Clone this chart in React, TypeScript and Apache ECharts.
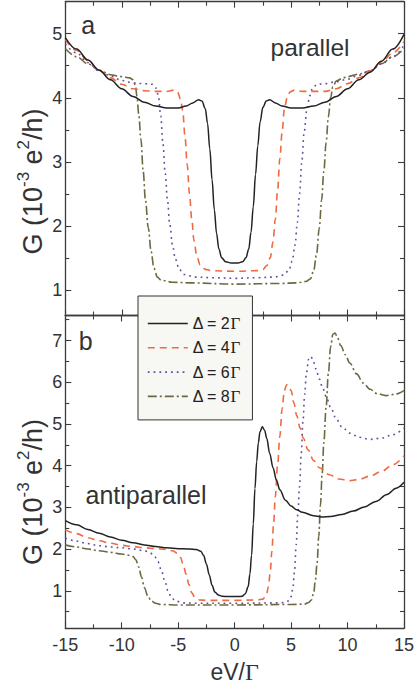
import React, { useEffect, useRef } from "react";
import * as echarts from "echarts";

// ---------- data ----------
const xMin = -15;
const xMax = 15;
const xStep = 5;

const topMajorTicks = [1, 2, 3, 4, 5];
const topMinorTicks = [1.5, 2.5, 3.5, 4.5, 5.5];
const botMajorTicks = [1, 2, 3, 4, 5, 6, 7];
const botMinorTicks = [0.5, 1.5, 2.5, 3.5, 4.5, 5.5, 6.5, 7.5];

const seriesNames = ["Δ = 2Γ", "Δ = 4Γ", "Δ = 6Γ", "Δ = 8Γ"];

// panel a: parallel
const par2 = [
  [-15, 4.94], [-14, 4.76], [-13, 4.59], [-12, 4.43], [-11, 4.28], [-10, 4.14], [-9, 4.02],
  [-8, 3.93], [-7, 3.87], [-6, 3.84], [-5, 3.84], [-4.3, 3.87], [-3.7, 3.92], [-3.2, 3.97],
  [-2.9, 3.95], [-2.6, 3.83], [-2.4, 3.6], [-2.2, 3.2], [-2.0, 2.72], [-1.8, 2.25],
  [-1.6, 1.88], [-1.4, 1.64], [-1.15, 1.5], [-0.8, 1.44], [-0.3, 1.42], [0.3, 1.42],
  [0.7, 1.44], [1.0, 1.5], [1.25, 1.64], [1.45, 1.9], [1.65, 2.3], [1.85, 2.8], [2.05, 3.25],
  [2.25, 3.62], [2.5, 3.85], [2.8, 3.95], [3.1, 3.97], [3.6, 3.92], [4.2, 3.87], [5, 3.84],
  [6, 3.84], [7, 3.87], [8, 3.93], [9, 4.02], [10, 4.14], [11, 4.28], [12, 4.4], [13, 4.57],
  [14, 4.76], [15, 4.99],
];
const par4 = [
  [-15, 4.91], [-14, 4.74], [-13, 4.58], [-12, 4.43], [-11, 4.31], [-10, 4.21], [-9, 4.14],
  [-8, 4.11], [-7, 4.1], [-6, 4.1], [-5.4, 4.12], [-5.05, 4.09], [-4.8, 3.98], [-4.6, 3.8],
  [-4.4, 3.4], [-4.2, 2.95], [-4.0, 2.5], [-3.8, 2.1], [-3.6, 1.77], [-3.35, 1.52],
  [-3.05, 1.39], [-2.6, 1.32], [-2, 1.3], [0, 1.29], [2, 1.3], [2.5, 1.32], [2.85, 1.38],
  [3.15, 1.5], [3.4, 1.75], [3.6, 2.1], [3.8, 2.55], [4.0, 3.05], [4.2, 3.45], [4.4, 3.82],
  [4.65, 4.0], [4.9, 4.09], [5.3, 4.12], [6, 4.1], [7, 4.1], [8, 4.1], [9, 4.14],
  [10, 4.22], [11, 4.31], [12, 4.42], [13, 4.56], [14, 4.7], [15, 4.88],
];
const par6 = [
  [-15, 4.84], [-14, 4.7], [-13, 4.55], [-12, 4.42], [-11, 4.34], [-10, 4.27], [-9, 4.23],
  [-8, 4.22], [-7.3, 4.21], [-6.95, 4.15], [-6.75, 4.02], [-6.55, 3.72], [-6.35, 3.28],
  [-6.15, 2.82], [-5.95, 2.4], [-5.75, 2.03], [-5.5, 1.7], [-5.25, 1.48], [-4.9, 1.32],
  [-4.5, 1.24], [-3.5, 1.2], [-2, 1.19], [0, 1.18], [2, 1.19], [3.5, 1.2], [4.3, 1.23],
  [4.8, 1.3], [5.1, 1.45], [5.35, 1.7], [5.55, 2.05], [5.75, 2.5], [5.95, 3.0], [6.15, 3.45],
  [6.4, 3.82], [6.65, 4.03], [6.9, 4.15], [7.3, 4.21], [8, 4.22], [9, 4.25], [10, 4.29],
  [11, 4.35], [12, 4.42], [13, 4.53], [14, 4.64], [15, 4.82],
];
const par8 = [
  [-15, 4.77], [-14, 4.64], [-13, 4.53], [-12, 4.43], [-11, 4.36], [-10, 4.33], [-9.3, 4.31],
  [-9.0, 4.28], [-8.8, 4.2], [-8.65, 4.02], [-8.5, 3.75], [-8.3, 3.35], [-8.1, 2.85],
  [-7.9, 2.4], [-7.65, 1.97], [-7.4, 1.6], [-7.15, 1.34], [-6.85, 1.2], [-6.5, 1.15],
  [-5.5, 1.12], [-4, 1.11], [0, 1.09], [4, 1.1], [5.5, 1.11], [6.3, 1.13], [6.7, 1.17],
  [7.0, 1.3], [7.25, 1.55], [7.5, 1.97], [7.7, 2.4], [7.9, 2.85], [8.1, 3.3], [8.3, 3.7],
  [8.5, 4.0], [8.7, 4.17], [9, 4.26], [9.6, 4.31], [10, 4.33], [11, 4.37], [12, 4.42],
  [13, 4.53], [14, 4.64], [15, 4.77],
];

// panel b: antiparallel
const anti2 = [
  [-15, 2.68], [-14, 2.58], [-13, 2.47], [-12, 2.38], [-11, 2.29], [-10, 2.21], [-9, 2.15],
  [-8, 2.1], [-7, 2.06], [-6, 2.03], [-5, 2.01], [-4, 2.0], [-3.4, 1.99], [-3.0, 1.95],
  [-2.75, 1.85], [-2.5, 1.64], [-2.25, 1.38], [-2.0, 1.13], [-1.75, 0.97], [-1.45, 0.9],
  [-1.1, 0.87], [-0.5, 0.86], [0.3, 0.86], [0.65, 0.87], [0.95, 0.93], [1.2, 1.1],
  [1.35, 1.4], [1.5, 1.85], [1.65, 2.6], [1.8, 3.45], [1.95, 4.1], [2.1, 4.55], [2.25, 4.82],
  [2.45, 4.93], [2.65, 4.85], [2.85, 4.65], [3.1, 4.3], [3.4, 3.95], [3.7, 3.65], [4.0, 3.42],
  [4.5, 3.17], [5, 3.03], [5.5, 2.94], [6, 2.88], [7, 2.8], [7.7, 2.77], [8.5, 2.78],
  [9.5, 2.83], [10.5, 2.91], [11.5, 3.01], [12.5, 3.14], [13.5, 3.31], [14.3, 3.46], [15, 3.6],
];
const anti4 = [
  [-15, 2.46], [-14, 2.37], [-13, 2.27], [-12, 2.2], [-11, 2.14], [-10, 2.09], [-9, 2.06],
  [-8, 2.03], [-7, 2.01], [-6, 1.99], [-5.5, 1.96], [-5.1, 1.9], [-4.8, 1.8], [-4.55, 1.62],
  [-4.3, 1.4], [-4.05, 1.15], [-3.8, 0.95], [-3.5, 0.83], [-3.1, 0.78], [-2.5, 0.77],
  [0, 0.77], [2.0, 0.78], [2.5, 0.8], [2.8, 0.9], [3.0, 1.1], [3.15, 1.45], [3.3, 1.95],
  [3.45, 2.6], [3.6, 3.25], [3.8, 4.0], [4.0, 4.7], [4.2, 5.35], [4.4, 5.8], [4.6, 5.94],
  [4.8, 5.92], [5.0, 5.8], [5.25, 5.5], [5.5, 5.2], [5.8, 4.9], [6.1, 4.65], [6.5, 4.38],
  [7.0, 4.12], [7.5, 3.95], [8.4, 3.78], [9.2, 3.68], [10.2, 3.64], [11, 3.67], [12, 3.75],
  [13, 3.86], [14, 4.02], [15, 4.24],
];
const anti6 = [
  [-15, 2.26], [-14, 2.19], [-13, 2.13], [-12, 2.08], [-11, 2.05], [-10, 2.03], [-9, 2.0],
  [-8, 1.96], [-7.5, 1.91], [-7.1, 1.83], [-6.8, 1.7], [-6.5, 1.5], [-6.2, 1.25], [-5.9, 1.0],
  [-5.6, 0.83], [-5.2, 0.75], [-4.5, 0.71], [-3.5, 0.7], [0, 0.7], [4.0, 0.71], [4.5, 0.72],
  [4.8, 0.76], [5.0, 0.86], [5.15, 1.05], [5.3, 1.45], [5.45, 2.1], [5.6, 2.85], [5.75, 3.5],
  [5.9, 4.3], [6.05, 5.05], [6.2, 5.7], [6.35, 6.2], [6.55, 6.55], [6.75, 6.62], [6.95, 6.52],
  [7.2, 6.32], [7.5, 6.08], [7.8, 5.86], [8.1, 5.66], [8.5, 5.4], [9.0, 5.12], [9.5, 4.93],
  [10.2, 4.78], [11, 4.68], [12, 4.63], [13, 4.66], [14, 4.74], [15, 4.9],
];
const anti8 = [
  [-15, 2.1], [-14, 2.05], [-13, 2.0], [-12, 1.96], [-11, 1.92], [-10, 1.88], [-9.3, 1.85],
  [-9.0, 1.82], [-8.75, 1.74], [-8.5, 1.57], [-8.25, 1.33], [-8.0, 1.08], [-7.7, 0.88],
  [-7.4, 0.76], [-7.0, 0.7], [-6.5, 0.67], [-5, 0.66], [0, 0.66], [5, 0.67], [6.2, 0.68],
  [6.55, 0.72], [6.8, 0.78], [7.0, 0.95], [7.15, 1.25], [7.3, 1.65], [7.45, 2.3], [7.6, 3.05],
  [7.75, 3.8], [7.9, 4.55], [8.1, 5.4], [8.3, 6.2], [8.5, 6.85], [8.7, 7.15], [8.9, 7.18],
  [9.1, 7.07], [9.4, 6.88], [9.8, 6.66], [10.2, 6.46], [10.8, 6.2], [11.4, 5.98], [12, 5.83],
  [12.6, 5.73], [13.4, 5.68], [14.2, 5.71], [15, 5.8],
];

const parallelData = [par2, par4, par6, par8];
const antiData = [anti2, anti4, anti6, anti8];

// ---------- styles ----------
const SANS = '"Liberation Sans", Arial, Helvetica, sans-serif';
const SERIF = '"Liberation Serif", "Times New Roman", serif';
const TEXT = "#333333";
const AXIS = "#3c3c3c";
const lineColors = ["#222222", "#ef6a40", "#62509e", "#6e6842"];
const lineTypes: any[] = ["solid", [7, 5], [1.8, 4], [9, 3, 2, 3]];

export default function App() {
  const ref = useRef<HTMLDivElement>(null);

  useEffect(() => {
    if (!ref.current) return;
    const chart = echarts.init(ref.current, undefined, { renderer: "svg" });

    const gridTop = { left: 65.3, top: 1.7, width: 338.7, height: 313.8 };
    const gridBot = { left: 65.3, top: 315.5, width: 338.7, height: 312.8 };

    const xBase = (gridIndex: number, position: string, labels: boolean, name?: string) => ({
      type: "value",
      gridIndex,
      position,
      min: xMin,
      max: xMax,
      interval: xStep,
      name: name || "",
      nameLocation: "middle",
      nameGap: 32,
      nameTextStyle: {
        rich: {
          a: { fontFamily: SANS, fontSize: 23, color: TEXT, lineHeight: 23 },
          g: { fontFamily: SERIF, fontSize: 24, color: TEXT, lineHeight: 23 },
        },
      },
      axisLine: { show: true, onZero: false, lineStyle: { color: AXIS, width: 1.3 } },
      axisTick: { show: true, inside: true, length: 6, lineStyle: { color: AXIS, width: 1.1 } },
      minorTick: { show: true, splitNumber: 2, length: 4, lineStyle: { color: AXIS, width: 1.1 } },
      axisLabel: {
        show: labels,
        margin: 8,
        fontFamily: SANS,
        fontSize: 18,
        color: TEXT,
      },
      splitLine: { show: false },
      minorSplitLine: { show: false },
    });

    const yMajor = (gridIndex: number, position: string, min: number, max: number, ticks: number[], labels: boolean) => ({
      type: "value",
      gridIndex,
      position,
      min,
      max,
      axisLine: { show: true, onZero: false, lineStyle: { color: AXIS, width: 1.3 } },
      axisTick: { show: true, inside: true, length: 6, customValues: ticks, lineStyle: { color: AXIS, width: 1.1 } },
      axisLabel: {
        show: labels,
        customValues: ticks,
        margin: 3,
        fontFamily: SANS,
        fontSize: 18,
        color: TEXT,
      },
      splitLine: { show: false },
    });
    const yMinor = (gridIndex: number, position: string, min: number, max: number, ticks: number[]) => ({
      type: "value",
      gridIndex,
      position,
      min,
      max,
      axisLine: { show: false, onZero: false },
      axisTick: { show: true, inside: true, length: 4, customValues: ticks, lineStyle: { color: AXIS, width: 1.1 } },
      axisLabel: { show: false },
      splitLine: { show: false },
    });

    const series: any[] = [];
    seriesNames.forEach((name, i) => {
      const common = {
        type: "line",
        name,
        symbol: "none",
        showSymbol: false,
        smooth: 0.35,
        smoothMonotone: "x",
        z: 3 + (3 - i),
        lineStyle: { color: lineColors[i], width: i === 0 ? 1.5 : 1.6, type: lineTypes[i] },
        itemStyle: { color: lineColors[i] },
      };
      series.push({ ...common, xAxisIndex: 0, yAxisIndex: 0, data: parallelData[i] });
      series.push({ ...common, xAxisIndex: 2, yAxisIndex: 4, data: antiData[i] });
    });

    const yTitle = "{a|G (10}{s|-3}{a| e}{s|2}{a|/h)}";
    const yTitleRich = {
      a: { fontFamily: SANS, fontSize: 27, fill: TEXT, lineHeight: 36 },
      s: { fontFamily: SANS, fontSize: 17, fill: TEXT, lineHeight: 17, verticalAlign: "top" },
    };

    chart.setOption({
      animation: false,
      backgroundColor: "#ffffff",
      grid: [gridTop, gridBot],
      xAxis: [
        xBase(0, "bottom", false),
        xBase(0, "top", false),
        xBase(1, "bottom", true, "{a|eV/}{g|Γ}"),
        xBase(1, "top", false),
      ],
      yAxis: [
        yMajor(0, "left", 0.6, 5.5, topMajorTicks, true),
        yMinor(0, "left", 0.6, 5.5, topMinorTicks),
        yMajor(0, "right", 0.6, 5.5, topMajorTicks, false),
        yMinor(0, "right", 0.6, 5.5, topMinorTicks),
        yMajor(1, "left", 0.1, 7.6, botMajorTicks, true),
        yMinor(1, "left", 0.1, 7.6, botMinorTicks),
        yMajor(1, "right", 0.1, 7.6, botMajorTicks, false),
        yMinor(1, "right", 0.1, 7.6, botMinorTicks),
      ],
      legend: {
        data: seriesNames,
        orient: "vertical",
        left: 138,
        top: 296,
        padding: [19, 12, 15, 9],
        itemWidth: 40,
        itemHeight: 16,
        itemGap: 7.3,
        selectedMode: false,
        backgroundColor: "#f7f7f4",
        borderColor: "#333333",
        borderWidth: 1,
        z: 10,
        itemStyle: { color: "rgba(0,0,0,0)", borderColor: "rgba(0,0,0,0)", borderWidth: 0, opacity: 0 },
        lineStyle: { width: 1.6 },
        formatter: (n: string) => "{a|" + n.slice(0, -1) + "}{g|Γ}",
        textStyle: {
          color: "#222222",
          fontFamily: SANS,
          fontSize: 16,
          lineHeight: 16,
          rich: {
            a: { fontFamily: SANS, fontSize: 16, color: "#222222", lineHeight: 16 },
            g: { fontFamily: SERIF, fontSize: 17, color: "#222222", lineHeight: 16 },
          },
        },
      },
      graphic: [
        {
          type: "text",
          x: 33,
          y: 181.5,
          rotation: Math.PI / 2,
          style: { text: yTitle, rich: yTitleRich, align: "center", verticalAlign: "middle" },
        },
        {
          type: "text",
          x: 33,
          y: 492,
          rotation: Math.PI / 2,
          style: { text: yTitle, rich: yTitleRich, align: "center", verticalAlign: "middle" },
        },
        {
          type: "text",
          x: 88.3,
          y: 24.5,
          style: { text: "a", fontFamily: SANS, fontSize: 25, fill: TEXT, align: "center", verticalAlign: "middle" },
        },
        {
          type: "text",
          x: 310,
          y: 47.4,
          style: { text: "parallel", fontFamily: SANS, fontSize: 24.5, fill: TEXT, align: "center", verticalAlign: "middle" },
        },
        {
          type: "text",
          x: 85.8,
          y: 340.5,
          style: { text: "b", fontFamily: SANS, fontSize: 25, fill: TEXT, align: "center", verticalAlign: "middle" },
        },
        {
          type: "text",
          x: 146,
          y: 494.6,
          style: { text: "antiparallel", fontFamily: SANS, fontSize: 25, fill: TEXT, align: "center", verticalAlign: "middle" },
        },
      ],
      series,
    });

    return () => chart.dispose();
  }, []);

  return (
    <div
      ref={ref}
      style={{ position: "fixed", left: 0, top: 0, width: 417, height: 686, background: "#fff" }}
    />
  );
}
